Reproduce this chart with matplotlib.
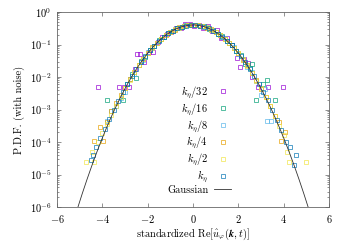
import numpy as np
import matplotlib
matplotlib.use('Agg')
import matplotlib.pyplot as plt

plt.rcParams['font.family'] = 'serif'
plt.rcParams['font.serif'] = ['cmr10']
plt.rcParams['mathtext.fontset'] = 'cm'
plt.rcParams['axes.formatter.use_mathtext'] = True
plt.rcParams['font.size'] = 7.5

# PDF samples, one pair of lists per filter scale
x_k32 = [-4.19, -3.26, -3.04, -2.82, -2.56, -2.47, -2.34, -2.15, -1.95, -1.76, -1.55, -1.35, -1.15,
         -0.95, -0.75, -0.55, -0.35, -0.15, 0.05, 0.25, 0.45, 0.65, 0.85, 1.05, 1.25, 1.5, 1.7,
         1.94, 2.07, 2.25, 2.43, 2.6, 2.87, 3.31, 3.97]
y_k32 = [5e-3, 5e-3, 5e-3, 5e-3, 1.75e-2, 5.0e-2, 5.1e-2, 3.0e-2, 6.0e-2, 6.0e-2, 0.12, 0.17, 0.21,
         0.25, 0.33, 0.32, 0.42, 0.43, 0.37, 0.40, 0.33, 0.38, 0.26, 0.27, 0.16, 0.158, 0.095,
         0.038, 0.020, 0.035, 0.027, 0.010, 5e-3, 5e-3, 5e-3]

x_k16 = [-3.79, -3.09, -2.9, -2.7, -2.5, -2.3, -2.1, -1.9, -1.7, -1.5, -1.3, -1.1, -0.9, -0.7, -0.5,
         -0.3, -0.1, 0.1, 0.3, 0.5, 0.7, 0.9, 1.1, 1.3, 1.5, 1.7, 1.9, 2.1, 2.3, 2.5, 2.6, 2.78,
         3.09, 3.26, 3.62]
y_k16 = [2e-3, 2e-3, 6e-3, 1.2e-2, 9.3e-3, 3.2e-2, 4.0e-2, 7.0e-2, 0.090, 0.135, 0.165, 0.225, 0.26,
         0.32, 0.34, 0.39, 0.40, 0.39, 0.37, 0.36, 0.30, 0.27, 0.21, 0.18, 0.125, 0.098, 0.062,
         0.047, 0.026, 0.019, 0.025, 2e-3, 6e-3, 8e-3, 2e-3]

x_k8 = [-3.8, -3.6, -3.4, -3.2, -3.0, -2.8, -2.6, -2.4, -2.2, -2.0, -1.8, -1.6, -1.4, -1.2, -1.0,
        -0.8, -0.6, -0.4, -0.2, 0.0, 0.2, 0.4, 0.6, 0.8, 1.0, 1.2, 1.4, 1.6, 1.8, 2.0, 2.2, 2.4,
        2.6, 2.8, 3.0, 3.18, 3.26, 3.44]
y_k8 = [4.4e-4, 8.8e-4, 1.3e-3, 2.2e-3, 3.5e-3, 8.4e-3, 1.25e-2, 2.4e-2, 3.3e-2, 5.7e-2, 7.6e-2,
        0.115, 0.145, 0.20, 0.235, 0.30, 0.325, 0.375, 0.385, 0.405, 0.39, 0.36, 0.34, 0.285, 0.25,
        0.19, 0.155, 0.108, 0.082, 0.052, 0.037, 0.021, 0.0145, 7.5e-3, 2.8e-3, 4.3e-3, 4.4e-4,
        4.4e-4]

x_k4 = [-4.36, -4.1, -3.97, -3.8, -3.6, -3.4, -3.2, -3.0, -2.8, -2.6, -2.4, -2.2, -2.0, -1.8, -1.6,
        -1.4, -1.2, -1.0, -0.8, -0.6, -0.4, -0.2, 0.0, 0.2, 0.4, 0.6, 0.8, 1.0, 1.2, 1.4, 1.6, 1.8,
        2.0, 2.2, 2.4, 2.6, 2.8, 3.0, 3.2, 3.4, 3.6, 3.79, 3.88, 4.06]
y_k4 = [1.1e-4, 2.9e-4, 1.1e-4, 4.0e-4, 9.0e-4, 1.6e-3, 2.7e-3, 4.6e-3, 8.5e-3, 1.4e-2, 2.3e-2,
        3.7e-2, 5.3e-2, 8.1e-2, 0.108, 0.152, 0.19, 0.245, 0.285, 0.34, 0.365, 0.395, 0.40, 0.385,
        0.372, 0.33, 0.292, 0.238, 0.197, 0.147, 0.113, 0.077, 0.055, 0.034, 0.023, 0.0132, 8.2e-3,
        4.3e-3, 2.5e-3, 1.3e-3, 6.5e-4, 4.2e-4, 1.1e-4, 2.0e-4]

x_k2 = [-4.72, -4.46, -4.36, -4.2, -4.0, -3.8, -3.6, -3.4, -3.2, -3.0, -2.8, -2.6, -2.4, -2.2, -2.0,
        -1.8, -1.6, -1.4, -1.2, -1.0, -0.8, -0.6, -0.4, -0.2, 0.0, 0.2, 0.4, 0.6, 0.8, 1.0, 1.2,
        1.4, 1.6, 1.8, 2.0, 2.2, 2.4, 2.6, 2.8, 3.0, 3.2, 3.4, 3.6, 3.8, 4.0, 4.15, 4.23, 4.98]
y_k2 = [2.5e-5, 5.0e-5, 2.5e-5, 1.0e-4, 1.9e-4, 3.5e-4, 6.8e-4, 1.3e-3, 2.5e-3, 4.6e-3, 8.0e-3,
        1.38e-2, 2.3e-2, 3.5e-2, 5.5e-2, 7.8e-2, 0.112, 0.148, 0.196, 0.24, 0.292, 0.33, 0.37,
        0.388, 0.401, 0.393, 0.365, 0.337, 0.287, 0.245, 0.192, 0.151, 0.109, 0.080, 0.053, 0.036,
        0.0222, 0.0137, 7.8e-3, 4.5e-3, 2.4e-3, 1.25e-3, 6.5e-4, 3.1e-4, 1.6e-4, 5.0e-5, 2.5e-5,
        2.5e-5]

x_k1 = [-4.5, -4.4, -4.3, -4.1, -3.9, -3.7, -3.5, -3.3, -3.1, -2.9, -2.7, -2.5, -2.3, -2.1, -1.9,
        -1.7, -1.5, -1.3, -1.1, -0.9, -0.7, -0.5, -0.3, -0.1, 0.1, 0.3, 0.5, 0.7, 0.9, 1.1, 1.3,
        1.5, 1.7, 1.9, 2.1, 2.3, 2.5, 2.7, 2.9, 3.1, 3.3, 3.5, 3.7, 3.9, 4.1, 4.28, 4.46, 4.54]
y_k1 = [2.8e-5, 4.0e-5, 7.0e-5, 1.3e-4, 2.5e-4, 5.0e-4, 9.5e-4, 1.8e-3, 3.4e-3, 6.1e-3, 1.06e-2,
        1.77e-2, 2.85e-2, 4.35e-2, 6.6e-2, 9.3e-2, 0.131, 0.170, 0.219, 0.264, 0.314, 0.350, 0.383,
        0.396, 0.398, 0.380, 0.353, 0.311, 0.268, 0.216, 0.172, 0.128, 0.095, 0.065, 0.0445,
        0.0285, 0.0178, 0.0106, 6.2e-3, 3.5e-3, 1.9e-3, 9.8e-4, 4.9e-4, 2.4e-4, 1.0e-4, 7.0e-5,
        2.0e-5, 4.0e-5]

labels = [r'$k_\eta/32$', r'$k_\eta/16$', r'$k_\eta/8$', r'$k_\eta/4$', r'$k_\eta/2$', r'$k_\eta$']
colors = ['#9400D3', '#009E73', '#56B4E9', '#E69F00', '#F0E442', '#0072B2']
series = [(x_k32, y_k32), (x_k16, y_k16), (x_k8, y_k8), (x_k4, y_k4), (x_k2, y_k2), (x_k1, y_k1)]

fig = plt.figure(figsize=(3.5, 2.45), dpi=100)
ax = fig.add_axes([0.163, 0.155, 0.777, 0.796])

for (xs, ys), lab, c in zip(series, labels, colors):
    ax.plot(xs, ys, ls='none', marker='s', ms=2.3, mfc='none', mec=c, mew=0.55, alpha=0.85, label=lab)

# reference standard normal
xg = np.linspace(-6, 6, 400)
ax.plot(xg, np.exp(-xg**2 / 2) / np.sqrt(2 * np.pi), color='0.2', lw=0.6, label='Gaussian', zorder=5)

ax.set_yscale('log')
ax.set_xlim(-6, 6)
ax.set_ylim(1e-6, 1)
ax.set_xticks([-6, -4, -2, 0, 2, 4, 6])
ax.set_xlabel(r'standardized Re$[\hat{u}_\varphi(\boldsymbol{k},t)]$', labelpad=1.5)
ax.set_ylabel('P.D.F. (with noise)', labelpad=3)

for s in ax.spines.values():
    s.set_color('0.4')
    s.set_linewidth(0.6)
ax.tick_params(which='both', direction='in', top=True, right=True, color='0.4', width=0.5)
ax.tick_params(which='major', length=3, pad=4)
ax.tick_params(which='minor', length=1.5)

leg = ax.legend(loc='upper right', bbox_to_anchor=(0.64, 0.63), frameon=False, markerfirst=False,
                handlelength=1.6, handletextpad=0.6, labelspacing=0.0, borderpad=0, borderaxespad=0)

plt.savefig('out.png', dpi=100)
